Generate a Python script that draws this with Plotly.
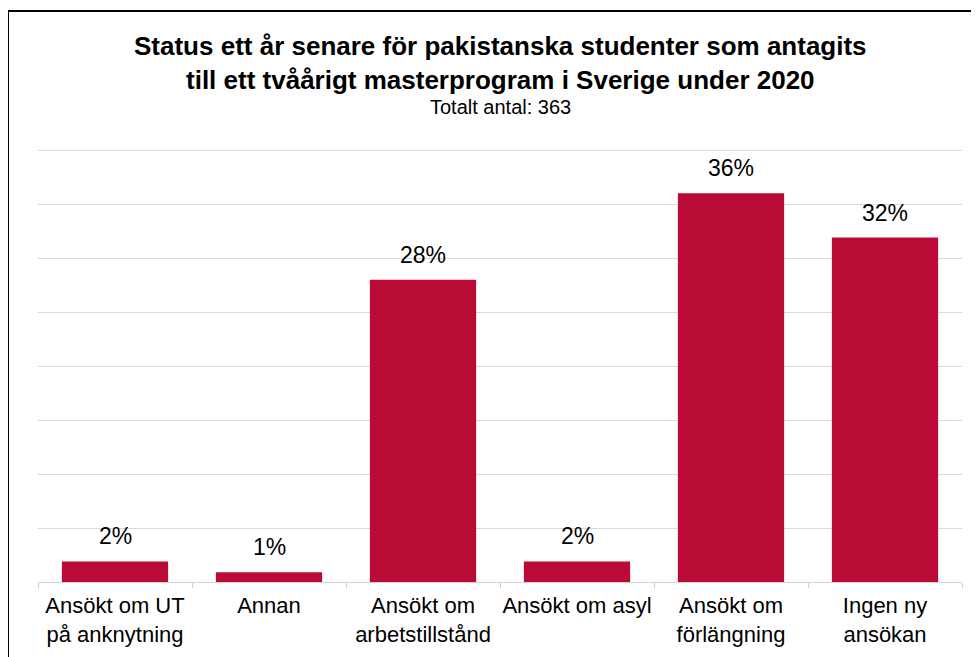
import plotly.graph_objects as go

categories = ["Ansökt om UT<br>på anknytning", "Annan", "Ansökt om<br>arbetstillstånd",
              "Ansökt om asyl", "Ansökt om<br>förlängning", "Ingen ny<br>ansökan"]
values = [1.9, 0.9, 28.0, 1.9, 36.0, 31.9]
labels = [f"{round(v)}%" for v in values]

title_lines = ["Status ett år senare för pakistanska studenter som antagits",
               "till ett tvåårigt masterprogram i Sverige under 2020"]
subtitle = "Totalt antal: 363"

# page has 8px body margin; figure coordinates = page coordinates - 8
OFF = 8
W, H = 971, 649
L, R, T, B = 30, 17, 140, 75
pw, ph = W - L - R, H - T - B

def px_x(x):
    return (x - OFF - L) / pw

def px_y(y):
    return (H - B - (y - OFF)) / ph

FONT = "Liberation Sans, Arial, sans-serif"
BAR = "#BA0A36"

fig = go.Figure()
fig.add_trace(go.Bar(
    x=categories, y=values, marker=dict(color=BAR, line=dict(width=0)),
    width=0.69, hoverinfo="skip",
))

for c, v, t in zip(categories, values, labels):
    fig.add_annotation(x=c, y=v, text=t, showarrow=False, yanchor="middle",
                       yshift=25, font=dict(size=23, color="#000000", family=FONT))

fig.add_annotation(x=0.5, xref="paper", y=px_y(63), yref="paper",
                   text="<b>" + "<br>".join(title_lines) + "</b>",
                   showarrow=False, font=dict(size=26, color="#000", family=FONT), yanchor="middle")
fig.add_annotation(x=0.5, xref="paper", y=px_y(107), yref="paper", text=subtitle,
                   showarrow=False, font=dict(size=20, color="#000", family=FONT), yanchor="middle")

# outer border
fig.add_shape(type="rect", xref="paper", yref="paper",
              x0=px_x(8), x1=px_x(978), y0=px_y(720), y1=px_y(11),
              line=dict(color="#000000", width=2), fillcolor="rgba(0,0,0,0)", layer="above")

fig.update_layout(
    width=W, height=H,
    margin=dict(l=L, r=R, t=T, b=B, pad=0, autoexpand=False),
    paper_bgcolor="white", plot_bgcolor="white",
    showlegend=False, bargap=0.31,
    font=dict(family=FONT, color="#000"),
)
fig.update_xaxes(
    showline=True, linecolor="#d0d0d0", linewidth=1, tickangle=0, automargin=False,
    ticks="outside", tickson="boundaries", ticklen=5, tickcolor="#d0d0d0",
    ticklabelstandoff=4,
    tickfont=dict(size=22, color="#000", family=FONT), showgrid=False, fixedrange=True,
)
fig.update_yaxes(
    range=[0, 40.2], dtick=5, showticklabels=False, showgrid=True, automargin=False,
    gridcolor="#d9d9d9", gridwidth=1, zeroline=False, showline=False, ticks="", fixedrange=True,
)

fig.write_html("out.html")
